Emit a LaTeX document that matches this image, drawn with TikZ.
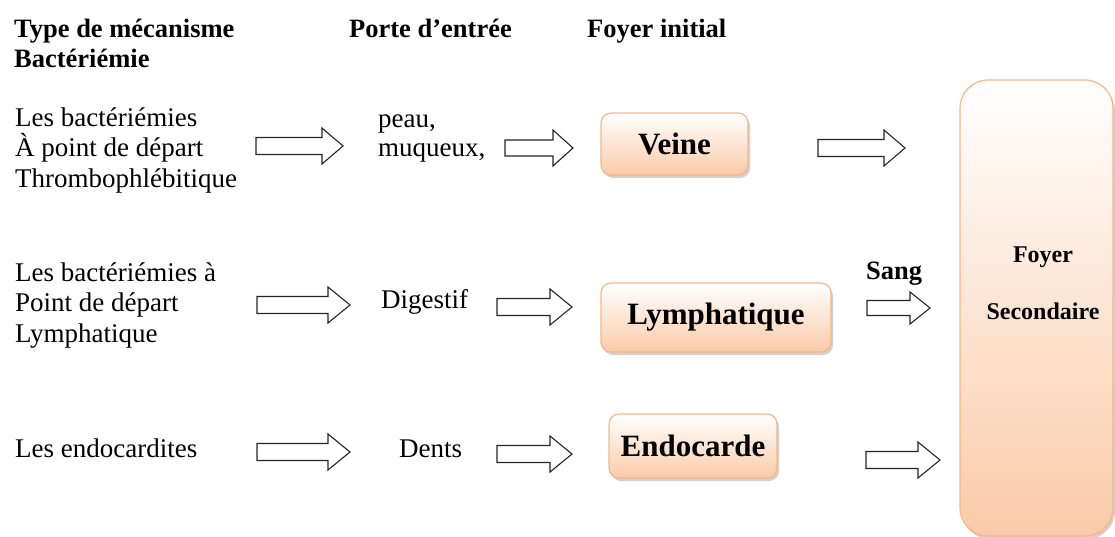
\documentclass[tikz,border=0pt]{standalone}
\usepackage{fontspec}
\setmainfont{Liberation Serif}
\usetikzlibrary{calc,shadows}
\definecolor{peach}{HTML}{FACBA8}
\definecolor{peachline}{HTML}{F7B688}
\tikzset{
 txt/.style={font=\fontsize{27}{30.5}\selectfont, inner sep=0pt, align=left, anchor=base west},
 hdr/.style={font=\fontsize{26.5}{30}\selectfont\bfseries, inner sep=0pt, align=left, anchor=base west},
 fbox/.style={draw=peachline, line width=1.2pt, rounded corners=10pt, top color=white, bottom color=peach,
   drop shadow={shadow xshift=2pt, shadow yshift=-3pt, opacity=0.3, fill=black!60},
   font=\fontsize{31}{34}\selectfont\bfseries, inner sep=0pt},
 barrow/.style={draw=black!85, line width=1.1pt, fill=white, line join=miter},
}
% start, end, body half-height, head half-height, head length
\newcommand\blockarrow[5]{%
  \draw[barrow] ($(#1)+(0,-#3)$) -- ($(#2)+(-#5,-#3)$) -- ($(#2)+(-#5,-#4)$) -- (#2)
    -- ($(#2)+(-#5,#4)$) -- ($(#2)+(-#5,#3)$) -- ($(#1)+(0,#3)$) -- cycle;}
\begin{document}
\begin{tikzpicture}[x=1pt,y=-1pt]
\useasboundingbox (0,0) rectangle (1115,536);
% headers (base anchor = last line baseline)
\node[hdr] (h1) at (14,67) {Type de mécanisme\\Bactériémie};
\node[hdr] (h2) at (349,37) {Porte d’entrée};
\node[hdr] (h3) at (587,37) {Foyer initial};
% left column
\node[txt] (r1) at (15,187) {Les bactériémies\\À point de départ\\Thrombophlébitique};
\node[txt] (r2) at (15,342) {Les bactériémies à\\Point de départ\\Lymphatique};
\node[txt] (r3) at (15,457) {Les endocardites};
% entry
\node[txt, font=\fontsize{27}{29}\selectfont] (p1) at (378,156) {peau,\\muqueux,};
\node[txt] (p2) at (381,308) {Digestif};
\node[txt] (p3) at (399,457) {Dents};
% initial foci
\node[fbox, minimum width=147pt, minimum height=62pt] (veine) at (674.5,144) {Veine};
\node[fbox, minimum width=230pt, minimum height=69pt] (lymph) at (716,317.5) {Lymphatique};
\node[fbox, minimum width=168pt, minimum height=64pt] (endo) at (693,446) {Endocarde};
% secondary
\node[fbox, rounded corners=28pt, minimum width=153pt, minimum height=456pt] (sec) at (1036.5,308) {};
\node[font=\fontsize{24}{57}\selectfont\bfseries, align=center, inner sep=0pt] (fs) at (1043,283) {Foyer\\Secondaire};
\node[hdr] (sang) at (866,279) {Sang};
% arrows
\coordinate (a1s) at (256,146); \coordinate (a1e) at (343,146);
\coordinate (a2s) at (505,148); \coordinate (a2e) at (573,148);
\coordinate (a3s) at (818,148); \coordinate (a3e) at (905,148);
\coordinate (a4s) at (257,305); \coordinate (a4e) at (350,305);
\coordinate (a5s) at (497,307); \coordinate (a5e) at (572,307);
\coordinate (a6s) at (867,308); \coordinate (a6e) at (930,308);
\coordinate (a7s) at (257,452); \coordinate (a7e) at (350,452);
\coordinate (a8s) at (497,454); \coordinate (a8e) at (572,454);
\coordinate (a9s) at (866,460); \coordinate (a9e) at (940,460);
\blockarrow{a1s}{a1e}{8.5}{18}{21}
\blockarrow{a2s}{a2e}{8}{18}{20}
\blockarrow{a3s}{a3e}{8.5}{18}{21}
\blockarrow{a4s}{a4e}{8.5}{18}{22}
\blockarrow{a5s}{a5e}{8.5}{18}{22}
\blockarrow{a6s}{a6e}{7.5}{16}{20}
\blockarrow{a7s}{a7e}{8.5}{18}{22}
\blockarrow{a8s}{a8e}{8.5}{18}{22}
\blockarrow{a9s}{a9e}{8.5}{18}{22}
\end{tikzpicture}
\end{document}
